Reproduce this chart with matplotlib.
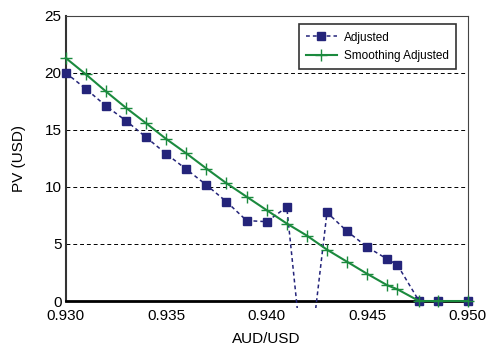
import matplotlib
matplotlib.use("Agg")
import matplotlib.pyplot as plt
from matplotlib.patches import Rectangle

plt.rcParams['font.family'] = ['Liberation Sans', 'DejaVu Sans']

# Adjusted series (with two unmarked dip points between 0.941 and 0.943)
adj_x = [0.930, 0.931, 0.932, 0.933, 0.934, 0.935, 0.936, 0.937, 0.938, 0.939,
         0.940, 0.941, 0.9416, 0.94235, 0.943, 0.944, 0.945, 0.946, 0.9465,
         0.94758, 0.9485, 0.950]
adj_y = [20.0, 18.6, 17.1, 15.8, 14.35, 12.9, 11.55, 10.17, 8.7, 7.05,
         6.95, 8.23, -2.0, -2.0, 7.76, 6.11, 4.73, 3.67, 3.17,
         0.0, 0.0, 0.0]
adj_marked = [0, 1, 2, 3, 4, 5, 6, 7, 8, 9, 10, 11, 14, 15, 16, 17, 18, 19, 20, 21]

smooth_x = [0.930, 0.931, 0.932, 0.933, 0.934, 0.935, 0.936, 0.937, 0.938, 0.939,
            0.940, 0.941, 0.942, 0.943, 0.944, 0.945, 0.946, 0.9465,
            0.94758, 0.9485, 0.950]
smooth_y = [21.3, 19.87, 18.37, 16.93, 15.58, 14.2, 12.94, 11.61, 10.32, 9.14,
            7.96, 6.79, 5.73, 4.5, 3.44, 2.38, 1.38, 1.03,
            0.0, 0.0, 0.0]

x_ticks = [0.930, 0.935, 0.940, 0.945, 0.950]
x_ticklabels = ["0.930", "0.935", "0.940", "0.945", "0.950"]
y_ticks = [0, 5, 10, 15, 20, 25]

navy = "#24247a"
green = "#1b8a3e"

fig = plt.figure(figsize=(4.9, 3.49), dpi=100)
ax = fig.add_axes([0.134, 0.1375, 0.8205, 0.8175])

for yv in [5, 10, 15, 20]:
    ax.axhline(yv, color="black", linestyle=(0, (4, 3)), linewidth=0.7, zorder=1)

# Adjusted line (clipped slightly below the axis)
line_adj, = ax.plot(adj_x, adj_y, color=navy, linestyle=(0, (2.5, 2)), linewidth=1.1,
                    zorder=3)
clip_rect = Rectangle((0, -0.025), 1, 1.025, transform=ax.transAxes,
                      facecolor="none", edgecolor="none")
line_adj.set_clip_path(clip_rect)
# Adjusted markers (not clipped)
ax.plot([adj_x[i] for i in adj_marked], [adj_y[i] for i in adj_marked],
        linestyle="none", marker="s", markersize=5.3, color=navy,
        clip_on=False, zorder=3)
# legend proxy
ax.plot([], [], color=navy, linestyle=(0, (2.5, 2)), linewidth=1.1,
        marker="s", markersize=5.3, label="Adjusted")

ax.plot(smooth_x, smooth_y, color=green, linestyle="-", linewidth=1.5,
        marker="+", markersize=8.5, markeredgewidth=1.0,
        label="Smoothing Adjusted", clip_on=False, zorder=4)

ax.set_xlim(0.930, 0.950)
ax.set_ylim(0, 25)
ax.set_xticks(x_ticks)
ax.set_xticklabels(x_ticklabels)
ax.set_yticks(y_ticks)
ax.tick_params(axis="both", length=0, labelsize=11, pad=3)
ax.tick_params(axis="x", pad=6)

ax.set_xlabel("AUD/USD", fontsize=11, labelpad=6)
ax.set_ylabel("PV (USD)", fontsize=11, labelpad=13)

ax.spines["bottom"].set_linewidth(2.0)
ax.spines["bottom"].set_color("black")
ax.spines["left"].set_linewidth(1.5)
ax.spines["left"].set_color("#333333")
ax.spines["top"].set_linewidth(0.8)
ax.spines["top"].set_color("#444444")
ax.spines["right"].set_linewidth(0.8)
ax.spines["right"].set_color("#444444")

leg = ax.legend(loc="upper right", fontsize=8.5, frameon=True, fancybox=False,
                edgecolor="black", borderpad=0.6, handlelength=2.6,
                handletextpad=0.6, labelspacing=0.55,
                bbox_to_anchor=(0.985, 0.99))
leg.get_frame().set_linewidth(1.2)

fig.savefig("out.png", dpi=100)
